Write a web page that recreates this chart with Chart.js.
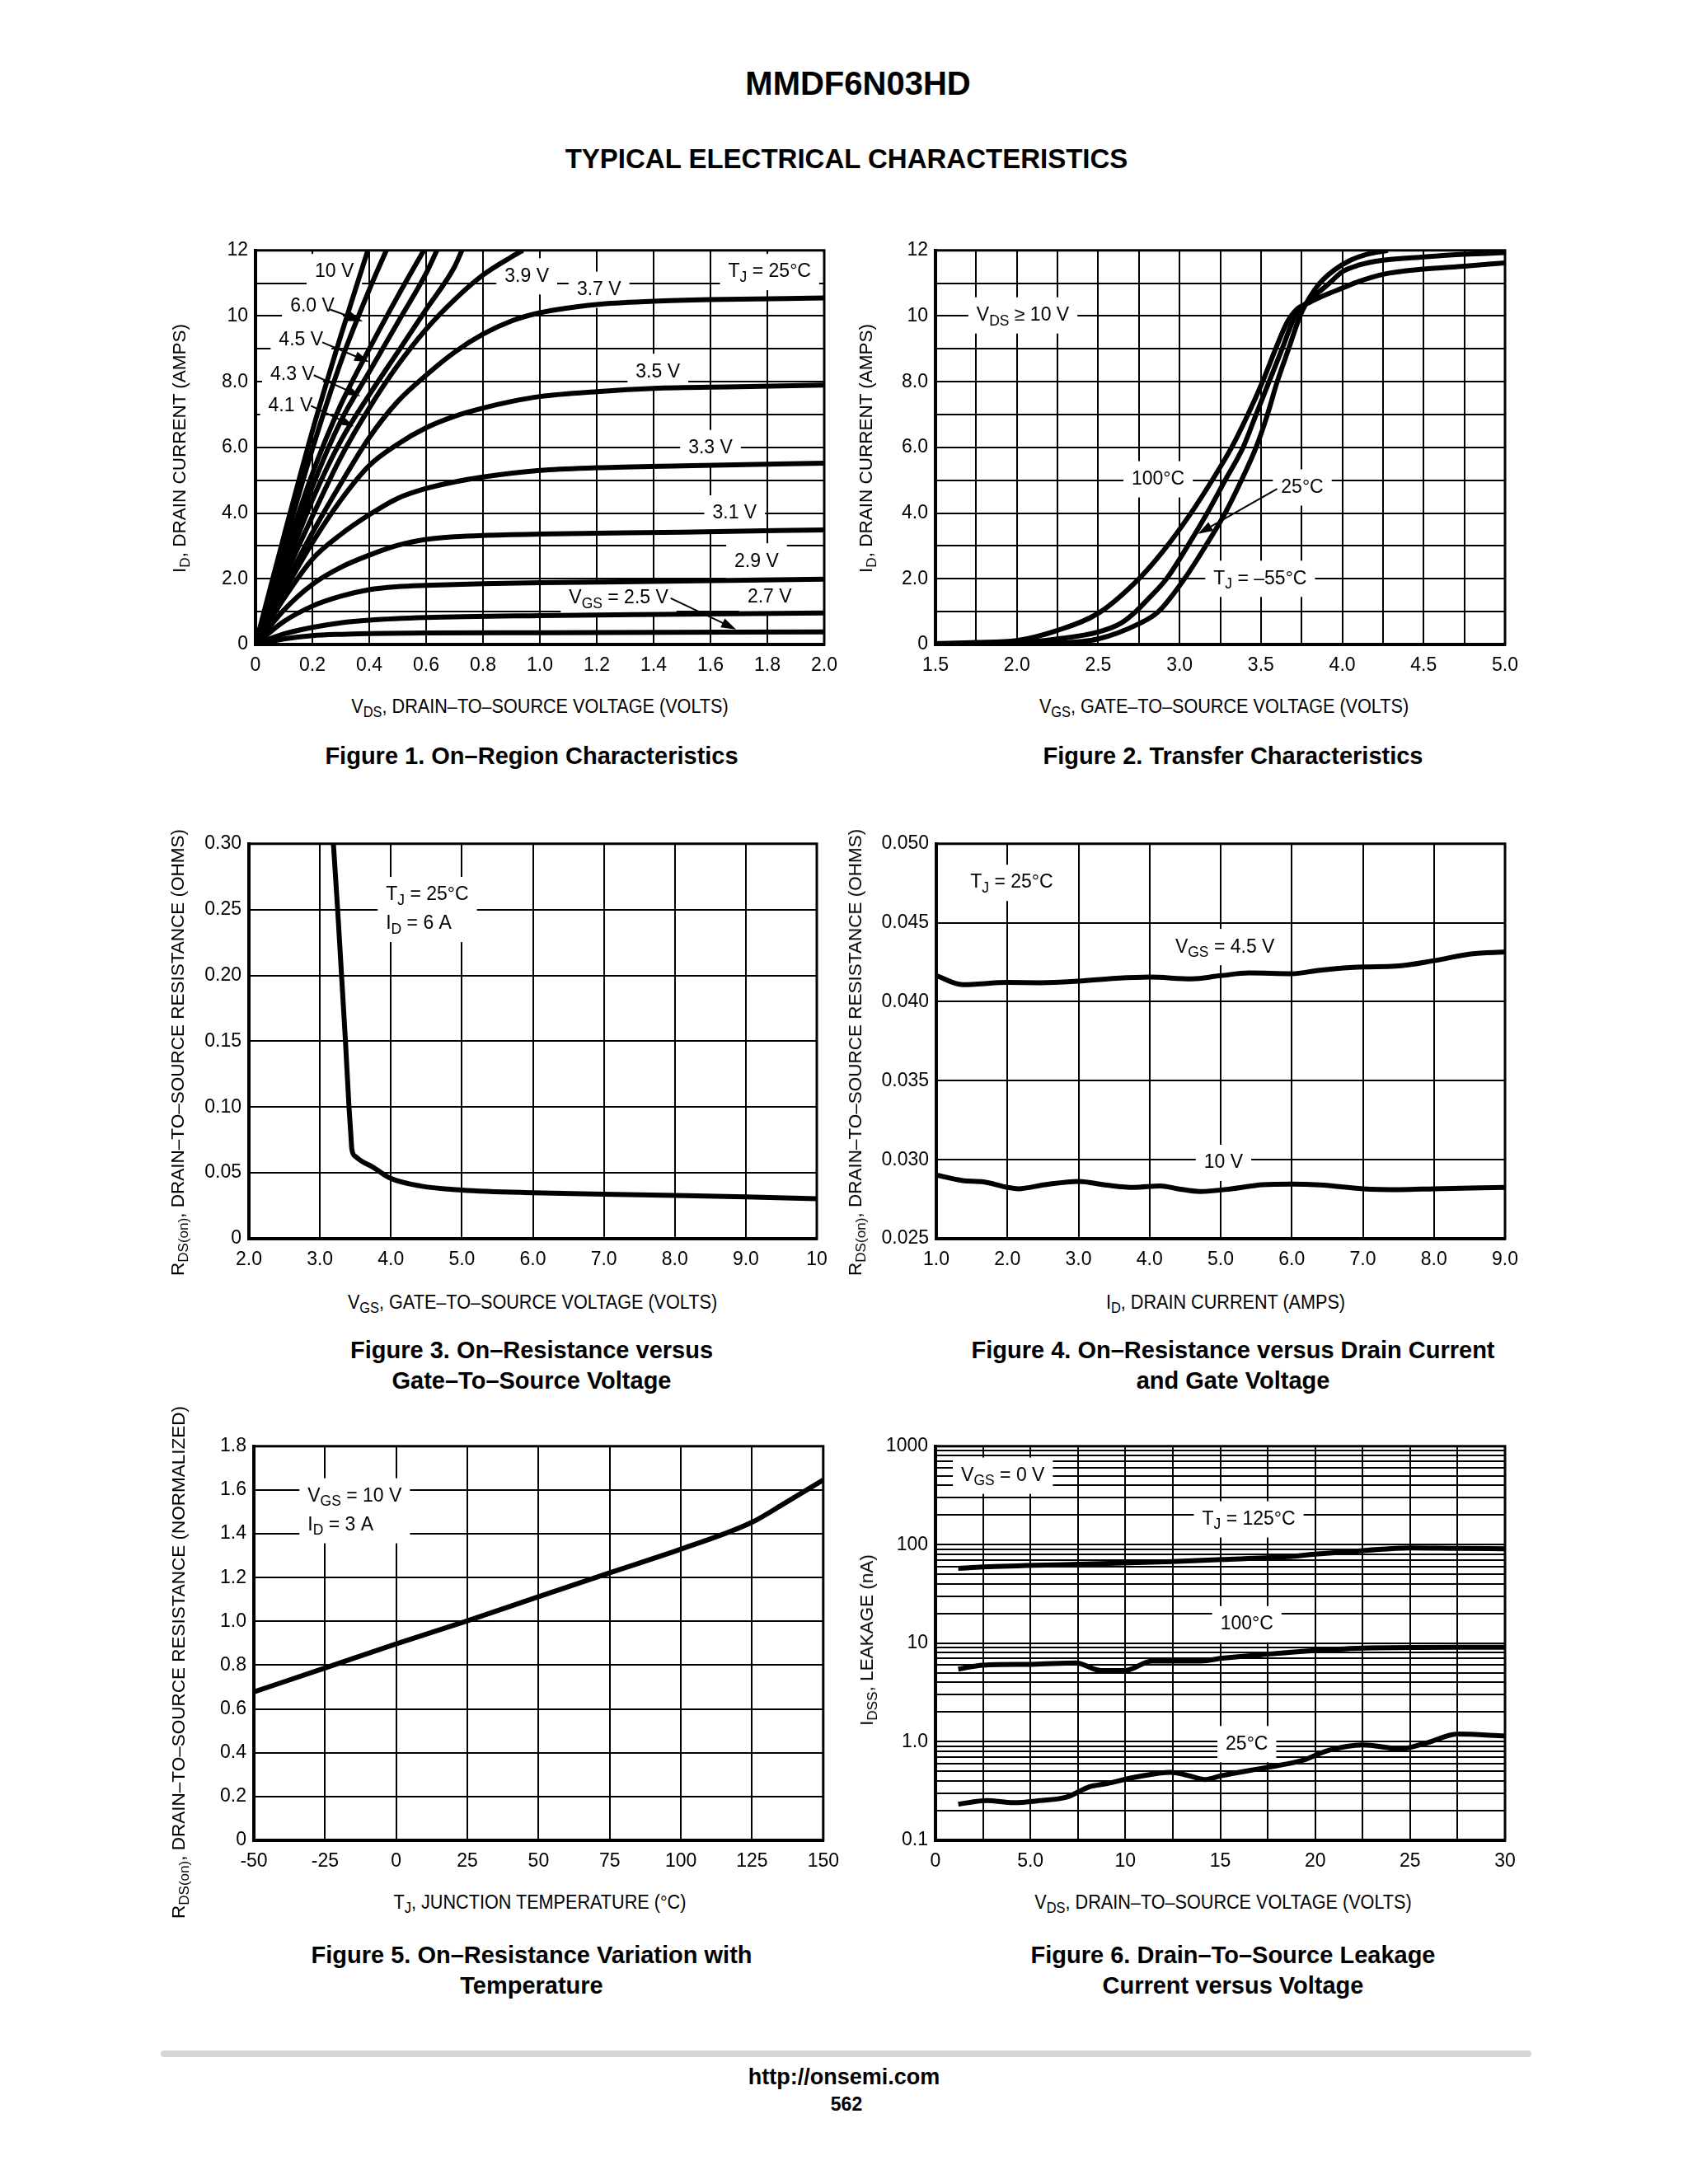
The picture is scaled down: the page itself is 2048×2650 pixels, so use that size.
<!DOCTYPE html>
<html lang="en">
<head>
<meta charset="UTF-8">
<title>MMDF6N03HD Typical Electrical Characteristics</title>
<script src="https://cdn.jsdelivr.net/npm/chart.js@4.4.1/dist/chart.umd.min.js"></script>
<style>
    * { margin: 0; padding: 0; box-sizing: border-box; }

    body {
        background: #fff;
        color: #000;
        width: 2048px;
        height: 2650px;
        position: relative;
        overflow: hidden;
        font-family: 'Liberation Sans', Arial, sans-serif;
    }

    canvas { position: absolute; }

    .abs {
        position: absolute;
        white-space: nowrap;
        transform: translate(-50%, -50%);
    }

    .title { font-weight: bold; font-size: 40px; }
    .subtitle { font-weight: bold; font-size: 33px; }
    .caption { font-weight: bold; font-size: 29px; line-height: 37px; text-align: center; }
    .xtitle {
        font-family: 'Liberation Sans Narrow', 'Liberation Sans', Arial, sans-serif;
        font-size: 23px;
        transform: translate(-50%, -50%) scaleX(0.94);
    }
    .ytitle { font-size: 22.5px; transform: translate(-50%, -50%) rotate(-90deg); }
    .footer { font-weight: bold; font-size: 27px; }
    .page { font-weight: bold; font-size: 23px; }

    sub { font-size: 0.76em; vertical-align: -0.3em; line-height: 0; }

    .rule {
        position: absolute;
        left: 195px;
        top: 2488px;
        width: 1663px;
        height: 8px;
        background: #d6d6d6;
        border-radius: 4px;
    }
</style>
</head>
<body>
    <div class="abs title" style="left:1041px;top:101px">MMDF6N03HD</div>
    <div class="abs subtitle" style="left:1027px;top:193px">TYPICAL ELECTRICAL CHARACTERISTICS</div>

    <canvas id="fig1"></canvas>
    <canvas id="fig2"></canvas>
    <canvas id="fig3"></canvas>
    <canvas id="fig4"></canvas>
    <canvas id="fig5"></canvas>
    <canvas id="fig6"></canvas>

    <!-- axis titles -->
    <div class="abs ytitle" style="left:218px;top:544px">I<sub>D</sub>, DRAIN CURRENT (AMPS)</div>
    <div class="abs ytitle" style="left:1051px;top:544px">I<sub>D</sub>, DRAIN CURRENT (AMPS)</div>
    <div class="abs ytitle" style="left:216px;top:1277px">R<sub>DS(on)</sub>, DRAIN–TO–SOURCE RESISTANCE (OHMS)</div>
    <div class="abs ytitle" style="left:1038px;top:1277px">R<sub>DS(on)</sub>, DRAIN–TO–SOURCE RESISTANCE (OHMS)</div>
    <div class="abs ytitle" style="left:217px;top:2017px">R<sub>DS(on)</sub>, DRAIN–TO–SOURCE RESISTANCE (NORMALIZED)</div>
    <div class="abs ytitle" style="left:1052px;top:1990px">I<sub>DSS</sub>, LEAKAGE (nA)</div>

    <div class="abs xtitle" style="left:655px;top:857px">V<sub>DS</sub>, DRAIN–TO–SOURCE VOLTAGE (VOLTS)</div>
    <div class="abs xtitle" style="left:1485px;top:857px">V<sub>GS</sub>, GATE–TO–SOURCE VOLTAGE (VOLTS)</div>
    <div class="abs xtitle" style="left:646px;top:1580px">V<sub>GS</sub>, GATE–TO–SOURCE VOLTAGE (VOLTS)</div>
    <div class="abs xtitle" style="left:1487px;top:1580px">I<sub>D</sub>, DRAIN CURRENT (AMPS)</div>
    <div class="abs xtitle" style="left:655px;top:2308px">T<sub>J</sub>, JUNCTION TEMPERATURE (°C)</div>
    <div class="abs xtitle" style="left:1484px;top:2308px">V<sub>DS</sub>, DRAIN–TO–SOURCE VOLTAGE (VOLTS)</div>

    <!-- captions -->
    <div class="abs caption" style="left:645px;top:917px">Figure 1. On–Region Characteristics</div>
    <div class="abs caption" style="left:1496px;top:917px">Figure 2. Transfer Characteristics</div>
    <div class="abs caption" style="left:645px;top:1657px">Figure 3. On–Resistance versus<br>Gate–To–Source Voltage</div>
    <div class="abs caption" style="left:1496px;top:1657px">Figure 4. On–Resistance versus Drain Current<br>and Gate Voltage</div>
    <div class="abs caption" style="left:645px;top:2391px">Figure 5. On–Resistance Variation with<br>Temperature</div>
    <div class="abs caption" style="left:1496px;top:2391px">Figure 6. Drain–To–Source Leakage<br>Current versus Voltage</div>

    <div class="rule"></div>
    <div class="abs footer" style="left:1024px;top:2520px">http://onsemi.com</div>
    <div class="abs page" style="left:1027px;top:2553px">562</div>

<script>
    // ---- Figure 1: ID vs VDS, one [VDS, ID] list per VGS
    const vgs10V = [[0,0],[0.1,3.3],[0.2,6.5],[0.3,9.4],[0.395,12]];
    const vgs60V = [[0,0],[0.1,3.0],[0.2,5.95],[0.3,8.6],[0.4,10.8],[0.46,12]];
    const vgs45V = [[0,0],[0.1,2.65],[0.2,5.2],[0.3,7.3],[0.4,9.0],[0.5,10.6],[0.592,12]];
    const vgs43V = [[0,0],[0.1,2.4],[0.2,4.8],[0.3,6.8],[0.4,8.3],[0.5,9.8],[0.6,11.3],[0.638,12]];
    const vgs41V = [[0,0],[0.1,2.2],[0.2,4.4],[0.3,6.2],[0.4,7.6],[0.5,8.9],[0.6,10.2],[0.7,11.5],[0.726,12]];
    const vgs39V = [[0,0],[0.1,2.0],[0.2,3.9],[0.3,5.7],[0.4,7.2],[0.5,8.5],[0.6,9.6],[0.7,10.5],[0.8,11.25],[0.9,11.8],[0.94,12]];
    const vgs37V = [[0,0],[0.1,1.75],[0.2,3.4],[0.3,4.9],[0.4,6.3],[0.5,7.4],[0.6,8.2],[0.7,8.9],[0.8,9.45],[0.9,9.85],[1.0,10.1],[1.2,10.35],[1.4,10.45],[1.6,10.5],[2.0,10.55]];
    const vgs35V = [[0,0],[0.1,1.6],[0.2,3.1],[0.3,4.4],[0.4,5.45],[0.5,6.1],[0.6,6.6],[0.7,6.95],[0.8,7.2],[0.9,7.4],[1.0,7.55],[1.2,7.7],[1.4,7.8],[1.7,7.85],[2.0,7.9]];
    const vgs33V = [[0,0],[0.1,1.4],[0.2,2.6],[0.3,3.35],[0.4,3.95],[0.5,4.45],[0.6,4.75],[0.7,4.95],[0.8,5.1],[1.0,5.3],[1.2,5.38],[1.5,5.44],[2.0,5.52]];
    const vgs31V = [[0,0],[0.1,1.05],[0.2,1.83],[0.3,2.35],[0.4,2.72],[0.5,3.02],[0.6,3.2],[0.7,3.28],[0.8,3.32],[1.0,3.36],[1.5,3.42],[2.0,3.49]];
    const vgs29V = [[0,0],[0.1,0.7],[0.2,1.17],[0.3,1.47],[0.4,1.67],[0.5,1.76],[0.6,1.8],[0.8,1.85],[1.0,1.88],[1.5,1.93],[2.0,1.99]];
    const vgs27V = [[0,0],[0.1,0.32],[0.2,0.52],[0.3,0.66],[0.4,0.74],[0.6,0.82],[1.0,0.88],[1.5,0.92],[2.0,0.96]];
    const vgs25V = [[0,0],[0.1,0.17],[0.2,0.27],[0.3,0.31],[0.4,0.33],[0.6,0.35],[1.0,0.36],[2.0,0.38]];
    const fig1XLabels = ['0','0.2','0.4','0.6','0.8','1.0','1.2','1.4','1.6','1.8','2.0'];
    const ampLabels = ['0','','2.0','','4.0','','6.0','','8.0','','10','','12'];

    // ---- Figure 2: ID vs VGS, [VGS, ID]
    const tj100 = [[1.5,0.03],[1.75,0.06],[2.0,0.12],[2.25,0.43],[2.5,0.95],[2.75,2.0],[2.9,2.85],[3.07,4.0],[3.2,5.0],[3.32,6.0],[3.42,7.0],[3.51,8.0],[3.59,9.0],[3.66,9.8],[3.72,10.2],[3.8,10.42],[3.9,10.65],[4.0,10.85],[4.1,11.05],[4.25,11.27],[4.5,11.43],[4.75,11.52],[5.0,11.62]];
    const tj25 = [[1.5,0.02],[1.75,0.03],[2.0,0.05],[2.25,0.17],[2.5,0.38],[2.64,0.65],[2.73,1.0],[2.8,1.35],[2.92,2.0],[3.05,3.0],[3.17,4.0],[3.28,5.0],[3.39,6.0],[3.47,7.0],[3.55,8.0],[3.63,9.0],[3.71,10.0],[3.77,10.35],[3.85,10.7],[3.92,11.0],[4.0,11.35],[4.1,11.55],[4.25,11.7],[4.5,11.8],[4.75,11.88],[5.0,11.93]];
    const tjm55 = [[1.5,0.01],[2.0,0.02],[2.25,0.04],[2.5,0.17],[2.75,0.63],[2.87,1.0],[3.03,2.0],[3.16,3.0],[3.28,4.0],[3.38,5.0],[3.47,6.0],[3.54,7.0],[3.6,8.0],[3.67,9.0],[3.74,10.0],[3.78,10.4],[3.83,10.8],[3.88,11.1],[3.95,11.4],[4.05,11.7],[4.15,11.88],[4.28,12.0]];
    const fig2XLabels = ['1.5','','2.0','','2.5','','3.0','','3.5','','4.0','','4.5','','5.0'];

    // ---- Figure 3: RDS(on) vs VGS, [VGS, ohms]
    const rdsVsVgs = [[3.19,0.30],[3.25,0.25],[3.305,0.20],[3.36,0.15],[3.41,0.10],[3.435,0.08],[3.45,0.068],[3.5,0.0625],[3.6,0.0585],[3.74,0.0546],[3.99,0.046],[4.42,0.040],[5.0,0.037],[6.0,0.0349],[7.0,0.0338],[8.0,0.0328],[9.0,0.0317],[10,0.0303]];
    const fig3XLabels = ['2.0','3.0','4.0','5.0','6.0','7.0','8.0','9.0','10'];
    const fig3YLabels = ['0','0.05','0.10','0.15','0.20','0.25','0.30'];

    // ---- Figure 4: RDS(on) vs ID, [ID, ohms]
    const rdsVgs45 = [[1.0,0.04165],[1.37,0.04108],[2.0,0.04122],[2.47,0.0412],[3.0,0.0413],[3.53,0.04148],[4.0,0.04156],[4.59,0.04145],[5.0,0.04165],[5.4,0.04182],[6.0,0.04177],[6.4,0.0420],[7.0,0.0422],[7.46,0.04225],[8.0,0.0426],[8.52,0.04303],[9.0,0.04315]];
    const rdsVgs10 = [[1.0,0.02903],[1.37,0.02868],[1.66,0.0286],[2.0,0.02825],[2.15,0.02816],[2.53,0.02842],[3.0,0.02863],[3.4,0.02839],[3.78,0.02825],[4.15,0.02834],[4.4,0.02816],[4.71,0.02799],[5.15,0.02816],[5.59,0.02842],[6.0,0.02846],[6.4,0.0284],[7.0,0.02816],[7.52,0.02811],[8.0,0.02816],[9.0,0.02825]];
    const fig4XLabels = ['1.0','2.0','3.0','4.0','5.0','6.0','7.0','8.0','9.0'];
    const fig4YLabels = ['0.025','0.030','0.035','0.040','0.045','0.050'];

    // ---- Figure 5: normalized RDS(on) vs TJ
    const rdsVsTemp = [[-50,0.678],[-25,0.787],[0,0.897],[25,1.003],[50,1.113],[75,1.222],[100,1.33],[125,1.453],[136.5,1.54],[150,1.646]];
    const fig5XLabels = ['-50','-25','0','25','50','75','100','125','150'];
    const fig5YLabels = ['0','0.2','0.4','0.6','0.8','1.0','1.2','1.4','1.6','1.8'];

    // ---- Figure 6: IDSS (nA) vs VDS
    const idss125 = [[1.2,57.6],[2.5,59.5],[7.5,63.4],[12.5,67.6],[15.1,70.7],[18.4,75.3],[20,80.3],[22.5,87.2],[25,92.9],[27.5,91.8],[30,91.2]];
    const idss100 = [[1.2,5.46],[2.5,6.0],[5.1,6.12],[7.4,6.32],[8.7,5.29],[10,5.29],[11.4,6.61],[12.4,6.61],[14,6.61],[15.1,7.05],[17.5,7.75],[20,8.42],[22.5,8.92],[27.5,9.09],[30,9.09]];
    const idss25 = [[1.2,0.233],[2.7,0.253],[4.1,0.241],[5.5,0.253],[6.9,0.274],[8.1,0.349],[9.0,0.376],[10.6,0.441],[12.4,0.491],[13.3,0.455],[14.2,0.414],[15.1,0.455],[17.5,0.551],[19.3,0.646],[20.7,0.818],[22.5,0.929],[24.5,0.85],[25.9,0.978],[27.5,1.199],[30,1.147]];
    const fig6XLabels = ['0','','5.0','','10','','15','','20','','25','','30'];
    const fig6Decades = [0.1, 1, 10, 100, 1000];
    const fig6DecadeLabels = ['0.1','1.0','10','100','1000'];

    const FONT = "'Liberation Sans Narrow', 'Liberation Sans', Arial, sans-serif";
    const PAD_L = 100, PAD_T = 20, PAD_R = 30, PAD_B = 50;

    // split "V_{GS} = 2.5 V" into normal / subscript runs
    function runs(str) {
        const out = [];
        const re = /_\{([^}]*)\}/g;
        let last = 0, m;
        while ((m = re.exec(str))) {
            if (m.index > last) out.push([str.slice(last, m.index), false]);
            out.push([m[1], true]);
            last = re.lastIndex;
        }
        if (last < str.length) out.push([str.slice(last), false]);
        return out;
    }

    function runWidth(ctx, parts, size) {
        let w = 0;
        parts.forEach(([t, sub]) => {
            ctx.font = (sub ? size * 0.76 : size) + 'px ' + FONT;
            w += ctx.measureText(t).width;
        });
        return w;
    }

    function drawLabel(ctx, px, py, n) {
        const size = 23, gap = 35;
        const lines = n.lines.map(runs);
        const widths = lines.map(p => runWidth(ctx, p, size));
        const w = Math.max(...widths);
        const h = gap * (lines.length - 1);
        const left = n.align === 'left' ? px : px - w / 2;
        ctx.save();
        ctx.fillStyle = '#fff';
        ctx.fillRect(left - 10, py - 22, w + 20, h + 44);
        ctx.fillStyle = '#000';
        ctx.textBaseline = 'middle';
        lines.forEach((parts, i) => {
            let cx = n.align === 'left' ? left : px - widths[i] / 2;
            const cy = py + i * gap;
            parts.forEach(([t, sub]) => {
                ctx.font = (sub ? size * 0.76 : size) + 'px ' + FONT;
                ctx.fillText(t, cx, sub ? cy + 7 : cy);
                cx += ctx.measureText(t).width;
            });
        });
        ctx.restore();
    }

    function drawArrow(ctx, x1, y1, x2, y2) {
        const a = Math.atan2(y2 - y1, x2 - x1), L = 18, W = 6;
        const c = Math.cos(a), s = Math.sin(a);
        ctx.save();
        ctx.strokeStyle = '#000';
        ctx.fillStyle = '#000';
        ctx.lineWidth = 2;
        ctx.beginPath();
        ctx.moveTo(x1, y1);
        ctx.lineTo(x2 - L * c * 0.8, y2 - L * s * 0.8);
        ctx.stroke();
        ctx.beginPath();
        ctx.moveTo(x2, y2);
        ctx.lineTo(x2 - L * c + W * s, y2 - L * s - W * c);
        ctx.lineTo(x2 - L * c - W * s, y2 - L * s + W * c);
        ctx.closePath();
        ctx.fill();
        ctx.restore();
    }

    // labels with white boxes go under the curves, arrows on top
    function notesPlugin(labels, arrows) {
        return {
            id: 'notes',
            beforeDatasetsDraw(chart) {
                const { ctx, scales: { x, y } } = chart;
                labels.forEach(n => drawLabel(ctx, x.getPixelForValue(n.x), y.getPixelForValue(n.y), n));
            },
            afterDatasetsDraw(chart) {
                const { ctx, scales: { x, y }, chartArea: a } = chart;
                (arrows || []).forEach(r => drawArrow(ctx,
                    x.getPixelForValue(r[0]), y.getPixelForValue(r[1]),
                    x.getPixelForValue(r[2]), y.getPixelForValue(r[3])));
                ctx.save();
                ctx.strokeStyle = '#000';
                ctx.lineWidth = 3;
                ctx.strokeRect(a.left, a.top, a.right - a.left, a.bottom - a.top);
                ctx.restore();
            }
        };
    }

    function axis(o, isX) {
        const s = {
            type: o.type || 'linear',
            position: isX ? 'bottom' : 'left',
            min: o.min,
            max: o.max,
            grid: { color: '#000', lineWidth: 2, drawTicks: false },
            border: { color: '#000', width: 4 },
            ticks: {
                color: '#000',
                font: { family: FONT, size: 23 },
                padding: isX ? 12 : 9,
                autoSkip: false,
                maxRotation: 0,
                stepSize: o.step,
                callback: o.callback || ((v, i) => o.labels[i] ?? '')
            },
            afterFit(scale) {
                if (isX) scale.height = PAD_B; else scale.width = PAD_L;
            }
        };
        if (o.afterBuildTicks) s.afterBuildTicks = o.afterBuildTicks;
        return s;
    }

    function plot(id, box, xo, yo, curves, labels, arrows) {
        const cv = document.getElementById(id);
        const w = box.r - box.l + PAD_L + PAD_R;
        const h = box.b - box.t + PAD_T + PAD_B;
        cv.width = w;
        cv.height = h;
        cv.style.width = w + 'px';
        cv.style.height = h + 'px';
        cv.style.left = (box.l - PAD_L) + 'px';
        cv.style.top = (box.t - PAD_T) + 'px';
        new Chart(cv, {
            type: 'line',
            data: {
                datasets: curves.map(pts => ({
                    data: pts.map(p => ({ x: p[0], y: p[1] })),
                    borderColor: '#000',
                    borderWidth: 6,
                    pointRadius: 0,
                    fill: false,
                    cubicInterpolationMode: 'monotone'
                }))
            },
            options: {
                responsive: false,
                animation: false,
                devicePixelRatio: 1,
                layout: { padding: { top: PAD_T, right: PAD_R, left: 0, bottom: 0 } },
                plugins: { legend: { display: false }, tooltip: { enabled: false } },
                scales: { x: axis(xo, true), y: axis(yo, false) }
            },
            plugins: [notesPlugin(labels, arrows)]
        });
    }

    // Figure 1
    plot('fig1', { l: 310, t: 301, r: 1000, b: 782 },
        { min: 0, max: 2, step: 0.2, labels: fig1XLabels },
        { min: 0, max: 12, step: 1, labels: ampLabels },
        [vgs10V, vgs60V, vgs45V, vgs43V, vgs41V, vgs39V, vgs37V, vgs35V, vgs33V, vgs31V, vgs29V, vgs27V, vgs25V],
        [
            { x: 0.277, y: 11.34, lines: ['10 V'] },
            { x: 0.20, y: 10.3, lines: ['6.0 V'] },
            { x: 0.16, y: 9.26, lines: ['4.5 V'] },
            { x: 0.13, y: 8.22, lines: ['4.3 V'] },
            { x: 0.123, y: 7.27, lines: ['4.1 V'] },
            { x: 0.954, y: 11.21, lines: ['3.9 V'] },
            { x: 1.208, y: 10.8, lines: ['3.7 V'] },
            { x: 1.808, y: 11.34, lines: ['T_{J} = 25°C'] },
            { x: 1.415, y: 8.3, lines: ['3.5 V'] },
            { x: 1.60, y: 5.98, lines: ['3.3 V'] },
            { x: 1.685, y: 3.99, lines: ['3.1 V'] },
            { x: 1.762, y: 2.53, lines: ['2.9 V'] },
            { x: 1.277, y: 1.41, lines: ['V_{GS} = 2.5 V'] },
            { x: 1.808, y: 1.45, lines: ['2.7 V'] }
        ],
        [
            [0.262, 10.2, 0.377, 9.84],
            [0.235, 9.2, 0.40, 8.6],
            [0.205, 8.2, 0.369, 7.56],
            [0.195, 7.27, 0.346, 6.64],
            [1.46, 1.41, 1.69, 0.46]
        ]);

    // Figure 2
    plot('fig2', { l: 1135, t: 301, r: 1826, b: 782 },
        { min: 1.5, max: 5, step: 0.25, labels: fig2XLabels },
        { min: 0, max: 12, step: 1, labels: ampLabels },
        [tj100, tj25, tjm55],
        [
            { x: 2.037, y: 10.02, lines: ['V_{DS} ≥ 10 V'] },
            { x: 2.868, y: 5.03, lines: ['100°C'] },
            { x: 3.754, y: 4.78, lines: ['25°C'] },
            { x: 3.495, y: 2.0, lines: ['T_{J} = –55°C'] }
        ],
        [[3.6, 4.74, 3.113, 3.37]]);

    // Figure 3
    plot('fig3', { l: 302, t: 1021, r: 991, b: 1503 },
        { min: 2, max: 10, step: 1, labels: fig3XLabels },
        { min: 0, max: 0.3, step: 0.05, labels: fig3YLabels },
        [rdsVsVgs],
        [{ x: 3.93, y: 0.261, align: 'left', lines: ['T_{J} = 25°C', 'I_{D} = 6 A'] }]);

    // Figure 4
    plot('fig4', { l: 1136, t: 1021, r: 1826, b: 1503 },
        { min: 1, max: 9, step: 1, labels: fig4XLabels },
        { min: 0.025, max: 0.05, step: 0.005, labels: fig4YLabels },
        [rdsVgs45, rdsVgs10],
        [
            { x: 2.06, y: 0.04753, lines: ['T_{J} = 25°C'] },
            { x: 5.06, y: 0.04346, lines: ['V_{GS} = 4.5 V'] },
            { x: 5.04, y: 0.0298, lines: ['10 V'] }
        ]);

    // Figure 5
    plot('fig5', { l: 308, t: 1752, r: 1000, b: 2233 },
        { min: -50, max: 150, step: 25, labels: fig5XLabels },
        { min: 0, max: 1.8, step: 0.2, labels: fig5YLabels },
        [rdsVsTemp],
        [{ x: -31.1, y: 1.571, align: 'left', lines: ['V_{GS} = 10 V', 'I_{D} = 3 A'] }]);

    // Figure 6 (log axis, minor lines at 2..9 of each decade)
    plot('fig6', { l: 1135, t: 1752, r: 1826, b: 2233 },
        { min: 0, max: 30, step: 2.5, labels: fig6XLabels },
        {
            type: 'logarithmic', min: 0.1, max: 1000,
            afterBuildTicks(scale) {
                const ticks = [];
                fig6Decades.slice(0, -1).forEach(d => {
                    for (let k = 1; k < 10; k++) ticks.push({ value: +(d * k).toPrecision(3) });
                });
                ticks.push({ value: 1000 });
                scale.ticks = ticks;
            },
            callback(v) {
                const i = fig6Decades.findIndex(d => Math.abs(d - v) < d * 1e-6);
                return i >= 0 ? fig6DecadeLabels[i] : '';
            }
        },
        [idss125, idss100, idss25],
        [
            { x: 3.55, y: 502, lines: ['V_{GS} = 0 V'] },
            { x: 16.5, y: 181, lines: ['T_{J} = 125°C'] },
            { x: 16.4, y: 15.6, lines: ['100°C'] },
            { x: 16.4, y: 0.947, lines: ['25°C'] }
        ]);
</script>
</body>
</html>
